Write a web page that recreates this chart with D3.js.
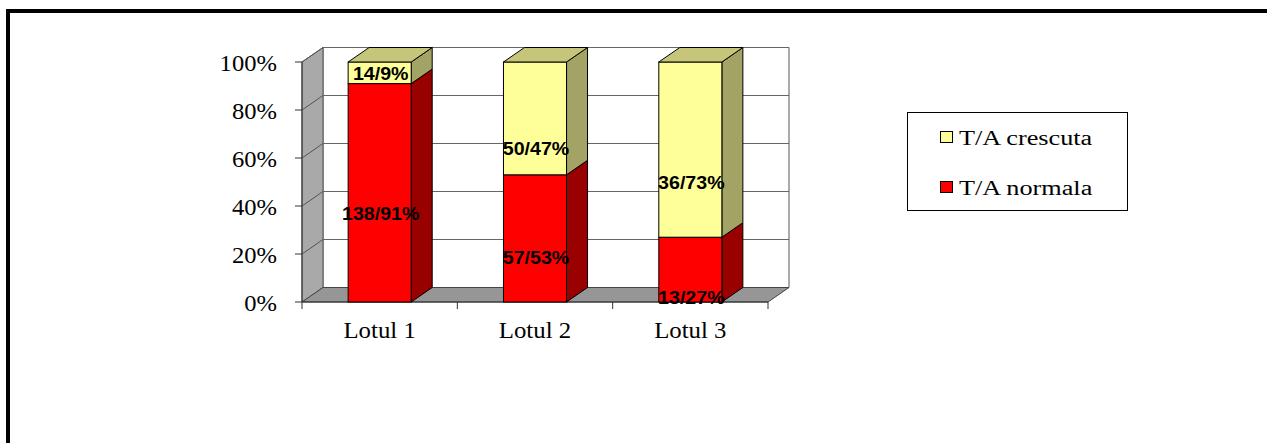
<!DOCTYPE html>
<html>
<head>
<meta charset="utf-8">
<script src="https://cdn.jsdelivr.net/npm/d3@7"></script>
<style>
  html, body { margin: 0; padding: 0; background: #fff; }
  svg { display: block; }
</style>
</head>
<body>
<svg id="chart" width="1267" height="443"></svg>
<script>
// Groups and blood-pressure split per group
const categories = ["Lotul 1", "Lotul 2", "Lotul 3"];
const normalCount = [138, 57, 13];
const normalPct = [91, 53, 27];
const raisedCount = [14, 50, 36];
const raisedPct = [9, 47, 73];
const seriesNames = ["T/A crescuta", "T/A normala"];
const yTicks = [0, 20, 40, 60, 80, 100];

const svg = d3.select("#chart");

// page frame
svg.append("rect")
  .attr("x", 8).attr("y", 11)
  .attr("width", 1400).attr("height", 600)
  .attr("fill", "none").attr("stroke", "#000").attr("stroke-width", 4);

// 3-D projection offsets (depth of the plot box)
const DX = 21, DY = -14.5;

const y = d3.scaleLinear().domain([0, 100]).range([302, 62]);
const x = d3.scaleBand().domain(categories).range([302, 768]).padding(0);
const barW = x.bandwidth() * 0.406;

const g = svg.append("g");

const pts = p => p.map(q => q.join(",")).join(" ");

// back wall
g.append("polygon")
  .attr("points", pts([[302 + DX, y(100) + DY], [768 + DX, y(100) + DY], [768 + DX, y(0) + DY], [302 + DX, y(0) + DY]]))
  .attr("fill", "#fff").attr("stroke", "#555").attr("stroke-width", 1);

// left wall
g.append("polygon")
  .attr("points", pts([[302, y(100)], [302 + DX, y(100) + DY], [302 + DX, y(0) + DY], [302, y(0)]]))
  .attr("fill", "#a9a9a9").attr("stroke", "#555").attr("stroke-width", 1);

// floor
g.append("polygon")
  .attr("points", pts([[302, y(0)], [302 + DX, y(0) + DY], [768 + DX, y(0) + DY], [768, y(0)]]))
  .attr("fill", "#969696").attr("stroke", "#444").attr("stroke-width", 1);

// gridlines on back and left walls
yTicks.filter(t => t > 0).forEach(t => {
  g.append("line")
    .attr("x1", 302 + DX).attr("x2", 768 + DX)
    .attr("y1", y(t) + DY).attr("y2", y(t) + DY)
    .attr("stroke", "#666").attr("stroke-width", 1.2);
  g.append("line")
    .attr("x1", 302).attr("x2", 302 + DX)
    .attr("y1", y(t)).attr("y2", y(t) + DY)
    .attr("stroke", "#555").attr("stroke-width", 1);
});

// value axis line and ticks
g.append("line").attr("x1", 302).attr("x2", 302).attr("y1", y(0)).attr("y2", y(100))
  .attr("stroke", "#333").attr("stroke-width", 1);
yTicks.forEach(t => {
  g.append("line").attr("x1", 295).attr("x2", 302).attr("y1", y(t)).attr("y2", y(t))
    .attr("stroke", "#333").attr("stroke-width", 1);
});

// category axis line and ticks
g.append("line").attr("x1", 302).attr("x2", 768).attr("y1", y(0)).attr("y2", y(0))
  .attr("stroke", "#333").attr("stroke-width", 1);
[302].concat(categories.map(c => x(c) + x.bandwidth())).forEach(px => {
  g.append("line").attr("x1", px).attr("x2", px).attr("y1", y(0)).attr("y2", y(0) + 7)
    .attr("stroke", "#333").attr("stroke-width", 1);
});

// stretched text helper
function label(parent, txt, cx, baseline, opts) {
  const t = parent.append("text")
    .attr("transform", `translate(${cx},${baseline}) scale(${opts.sx},1)`)
    .attr("text-anchor", opts.anchor || "middle")
    .attr("font-family", opts.family)
    .attr("font-size", opts.size)
    .attr("font-weight", opts.weight || "normal")
    .attr("fill", "#000")
    .text(txt);
  return t;
}

const serif = "'Liberation Serif','Times New Roman',serif";
const sans = "'Liberation Sans',Arial,sans-serif";

// value axis labels
yTicks.forEach(t => {
  label(g, t + "%", 277, y(t) + 9, { sx: 1.07, size: 23, family: serif, anchor: "end" });
});

// category labels
categories.forEach(c => {
  label(g, c, x(c) + x.bandwidth() / 2, 338, { sx: 1.08, size: 23, family: serif });
});

// stacked 3-D bars
const colors = {
  normal: { front: "#ff0000", side: "#990000", top: "#cc0000" },
  raised: { front: "#ffff99", side: "#a3a366", top: "#c6c67a" }
};

function block(x0, v0, v1, col, withTop) {
  const x1 = x0 + barW;
  const yb = y(v0), yt = y(v1);
  // side face
  g.append("polygon")
    .attr("points", pts([[x1, yb], [x1 + DX, yb + DY], [x1 + DX, yt + DY], [x1, yt]]))
    .attr("fill", col.side).attr("stroke", "#000").attr("stroke-width", 1);
  // front face
  g.append("rect")
    .attr("x", x0).attr("y", yt).attr("width", barW).attr("height", yb - yt)
    .attr("fill", col.front).attr("stroke", "#000").attr("stroke-width", 1);
  if (withTop) {
    g.append("polygon")
      .attr("points", pts([[x0, yt], [x0 + DX, yt + DY], [x1 + DX, yt + DY], [x1, yt]]))
      .attr("fill", col.top).attr("stroke", "#000").attr("stroke-width", 1);
  }
}

categories.forEach((c, i) => {
  const x0 = x(c) + (x.bandwidth() - barW) / 2;
  block(x0, 0, normalPct[i], colors.normal, false);
  block(x0, normalPct[i], normalPct[i] + raisedPct[i], colors.raised, true);
});

// data labels: count/percent, placed within each segment
const shiftNormal = [21, 19, 28];
const shiftRaised = [1, 30, 33];
const lblOpts = { sx: 1.06, size: 18.5, family: sans, weight: "bold" };
categories.forEach((c, i) => {
  const cx = x(c) + x.bandwidth() / 2 + 1;
  const midN = (y(0) + y(normalPct[i])) / 2 + shiftNormal[i];
  const midR = (y(normalPct[i]) + y(normalPct[i] + raisedPct[i])) / 2 + shiftRaised[i];
  label(g, `${normalCount[i]}/${normalPct[i]}%`, cx, midN + 6.6, lblOpts);
  label(g, `${raisedCount[i]}/${raisedPct[i]}%`, cx, midR + 6.6, lblOpts);
});

// legend
const lg = svg.append("g");
lg.append("rect").attr("x", 907.5).attr("y", 112.5).attr("width", 220).attr("height", 98)
  .attr("fill", "#fff").attr("stroke", "#000").attr("stroke-width", 1);
const legendColors = [colors.raised.front, colors.normal.front];
seriesNames.forEach((s, i) => {
  const cy = 137 + i * 50;
  lg.append("rect").attr("x", 940.5).attr("y", cy - 5.5).attr("width", 12).attr("height", 11)
    .attr("fill", legendColors[i]).attr("stroke", "#000").attr("stroke-width", 1);
  label(lg, s, 959, cy + 8, { sx: 1.28, size: 20.5, family: serif, anchor: "start" });
});
</script>
</body>
</html>
